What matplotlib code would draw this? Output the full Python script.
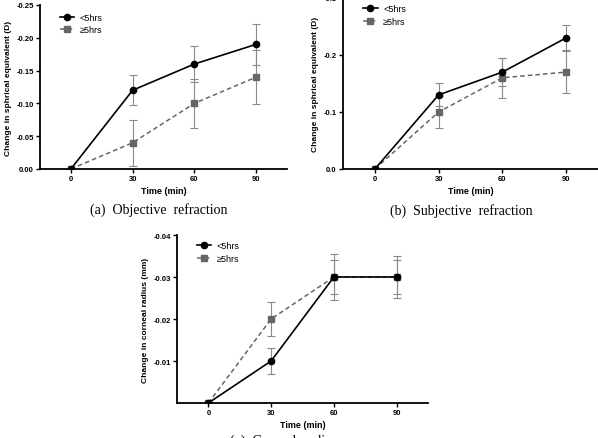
import matplotlib
matplotlib.use("Agg")
import matplotlib.pyplot as plt

# time points (min)
time = [0, 30, 60, 90]

# (a) objective refraction, change in spherical equivalent (D)
obj_lt5 = [0, -0.12, -0.16, -0.19]
obj_lt5_err = [0, 0.023, 0.027, 0.031]
obj_ge5 = [0, -0.04, -0.10, -0.14]
obj_ge5_err = [0, 0.035, 0.037, 0.041]

# (b) subjective refraction
subj_lt5 = [0, -0.13, -0.17, -0.23]
subj_lt5_err = [0, 0.020, 0.024, 0.022]
subj_ge5 = [0, -0.10, -0.16, -0.17]
subj_ge5_err = [0, 0.028, 0.035, 0.037]

# (c) corneal radius (mm)
corn_lt5 = [0, -0.01, -0.03, -0.03]
corn_lt5_err = [0, 0.003, 0.004, 0.004]
corn_ge5 = [0, -0.02, -0.03, -0.03]
corn_ge5_err = [0, 0.004, 0.0055, 0.005]

labels = ["<5hrs", "≥5hrs"]

plt.rcParams['font.family'] = ['Liberation Sans', 'DejaVu Sans']

fig = plt.figure(figsize=(5.98, 4.39), dpi=100)


def draw_panel(rect, lt5, lt5_err, ge5, ge5_err, ylim, yticks, yfmt, ylabel,
               caption, cap_x, cap_y, leg_y):
    ax = fig.add_axes(rect)
    ax.errorbar(time[1:], lt5[1:], yerr=lt5_err[1:], fmt='none', ecolor='#8a8a8a',
                elinewidth=0.8, capsize=3, capthick=0.8, zorder=1)
    ax.errorbar(time[1:], ge5[1:], yerr=ge5_err[1:], fmt='none', ecolor='#8a8a8a',
                elinewidth=0.8, capsize=3, capthick=0.8, zorder=1)
    ax.plot(time, lt5, color='black', lw=1.2, marker='o', ms=4.5, label=labels[0], zorder=3)
    ax.plot(time, ge5, color='#666666', lw=1.1, ls='--', dashes=(3, 2), marker='s', ms=4.5,
            label=labels[1], zorder=2)
    ax.set_xlim(-15, 105)
    ax.set_ylim(*ylim)
    ax.set_xticks(time)
    ax.set_yticks(yticks)
    ax.set_yticklabels([yfmt.format(v) for v in yticks])
    for s in ['top', 'right']:
        ax.spines[s].set_visible(False)
    for s in ['left', 'bottom']:
        ax.spines[s].set_linewidth(1.3)
    ax.tick_params(labelsize=5.5, width=1, length=3, pad=1.5)
    for t in ax.get_xticklabels() + ax.get_yticklabels():
        t.set_fontweight('bold')
    ax.set_xlabel("Time (min)", fontsize=6.5, fontweight='bold', labelpad=3)
    ax.set_ylabel(ylabel, fontsize=6, fontweight='bold', labelpad=3)
    ax.legend(loc='upper left', bbox_to_anchor=(0.065, leg_y), frameon=False, fontsize=6.5,
              handlelength=1.6, handletextpad=0.6, labelspacing=0.4, borderaxespad=0)
    fig.text(cap_x / 598, 1 - cap_y / 439, caption, ha='center', va='center', fontsize=10,
             family=['Liberation Serif', 'DejaVu Serif'])
    return ax


draw_panel([0.0669, 0.6128, 0.413, 0.3736], obj_lt5, obj_lt5_err, obj_ge5, obj_ge5_err,
           (0, -0.25), [0.0, -0.05, -0.10, -0.15, -0.20, -0.25], "{:.2f}",
           "Change in sphrical equivalent (D)", "(a)  Objective  refraction", 159, 210, 0.975)
draw_panel([0.5736, 0.6128, 0.4264, 0.3895], subj_lt5, subj_lt5_err, subj_ge5, subj_ge5_err,
           (0, -0.3), [0.0, -0.1, -0.2, -0.3], "{:.1f}",
           "Change in sphrical equivalent (D)", "(b)  Subjective  refraction", 461, 211, 0.985)
draw_panel([0.296, 0.0797, 0.4197, 0.3827], corn_lt5, corn_lt5_err, corn_ge5, corn_ge5_err,
           (0, -0.04), [-0.01, -0.02, -0.03, -0.04], "{:.2f}",
           "Change in corneal radius (mm)", "(c)  Corneal  radius", 284, 441, 0.985)

fig.savefig("out.png", dpi=100)
